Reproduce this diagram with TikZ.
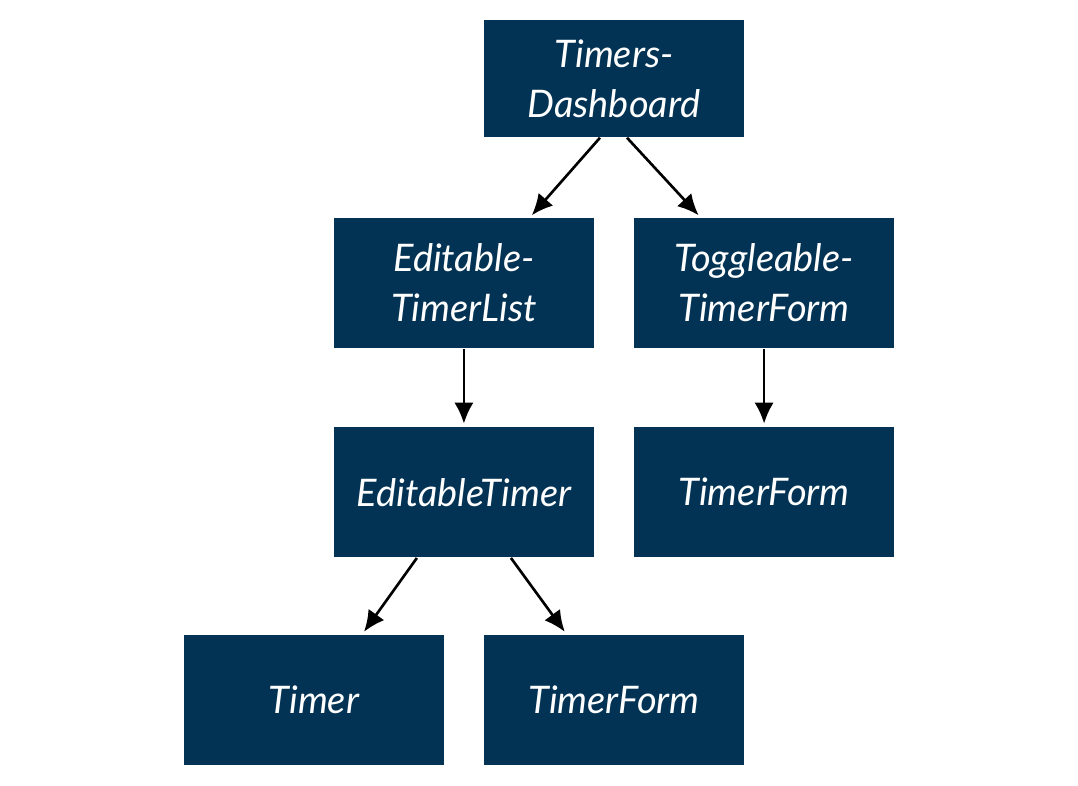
\documentclass[tikz,border=0pt]{standalone}
\usepackage{fontspec}
\setmainfont{Lato}
\usetikzlibrary{arrows.meta,positioning}
\definecolor{boxnavy}{RGB}{3,51,84}

\begin{document}
\begin{tikzpicture}[x=0.01cm,y=-0.01cm,>={Latex[length=6pt,width=5.5pt]},on grid,
    comp/.style={rectangle,fill=boxnavy,text=white,minimum width=2.6cm,minimum height=1.3cm,inner sep=0pt,align=center,font=\fontsize{10.8}{14.2}\selectfont\itshape},
    link/.style={->,line width=0.75pt,shorten >=0.8pt}]
        \useasboundingbox (0,0) rectangle (1078,786);
        \node[comp,minimum height=1.17cm] (dash)       at (614,78.5)                          {Timers-\\Dashboard};
        \node[comp]                       (list)  [below left=2.045cm and 1.5cm of dash]   {Editable-\\TimerList};
        \node[comp]                       (toggle) [right=3cm of list]                     {Toggleable-\\TimerForm};
        \node[comp]                       (edit)  [below=2.09cm of list]                   {EditableTimer};
        \node[comp]                       (form)  [right=3cm of edit]                      {TimerForm};
        \node[comp]                       (timer) [below left=2.075cm and 1.5cm of edit]   {Timer};
        \node[comp]                       (editform) [right=3cm of timer]                  {TimerForm};

        \path[link] ([xshift=-0.14cm]dash.south) edge ([xshift=0.66cm]list.north)
                    ([xshift=0.13cm]dash.south)  edge ([xshift=-0.635cm]toggle.north)
                    (list) edge (edit)
                    (toggle) edge (form)
                    ([xshift=-0.47cm]edit.south) edge ([xshift=0.485cm]timer.north)
                    ([xshift=0.47cm]edit.south)  edge ([xshift=-0.475cm]editform.north);
\end{tikzpicture}
\end{document}
